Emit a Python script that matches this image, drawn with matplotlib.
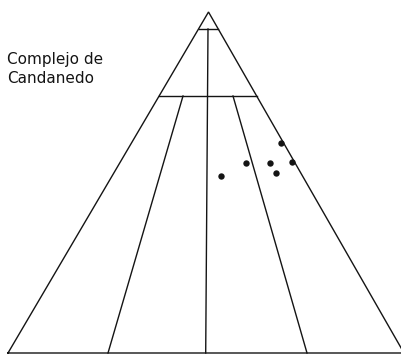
import matplotlib.pyplot as plt

# Diagram frame in drawing units (x to the right, y downward from the top)
apex = (208.5, 12)
left_corner = (8, 353)
right_corner = (404, 353)

# Field boundaries: horizontal cut levels and the three inner dividers
top_cut_y = 29
mid_cut_y = 96
dividers_top_x = [183, 208, 233]
dividers_base_x = [108, 205.7, 307]

# Sample points
sample_x = [221, 246, 270.5, 276, 281, 292]
sample_y = [176, 163, 163, 173, 143, 162]


def edge_x(y, corner):
    # x of a triangle side at height y, between the apex and a base corner
    t = (y - apex[1]) / (corner[1] - apex[1])
    return apex[0] + t * (corner[0] - apex[0])


fig = plt.figure(figsize=(4.02, 3.55), dpi=100)
ax = fig.add_axes([0, 0, 1, 1])
ax.set_xlim(0, 402)
ax.set_ylim(355, 0)
ax.axis('off')

ink = '#141414'
lw = 1.0

# outer triangle
ax.plot([left_corner[0], apex[0], right_corner[0], left_corner[0]],
        [left_corner[1], apex[1], right_corner[1], left_corner[1]],
        color=ink, lw=lw, solid_joinstyle='miter')

# horizontal cuts
for cy in (top_cut_y, mid_cut_y):
    ax.plot([edge_x(cy, left_corner), edge_x(cy, right_corner)], [cy, cy],
            color=ink, lw=lw)

# inner dividers (the central one starts at the upper cut)
for i, (xt, xb) in enumerate(zip(dividers_top_x, dividers_base_x)):
    y0 = top_cut_y if i == 1 else mid_cut_y
    ax.plot([xt, xb], [y0, left_corner[1]], color=ink, lw=lw)

ax.plot(sample_x, sample_y, 'o', color=ink, markersize=4.6, markeredgewidth=0)

ax.text(7, 64, 'Complejo de', fontsize=11, color=ink, va='baseline', ha='left')
ax.text(7, 83, 'Candanedo', fontsize=11, color=ink, va='baseline', ha='left')

fig.savefig('out.png', dpi=100)
